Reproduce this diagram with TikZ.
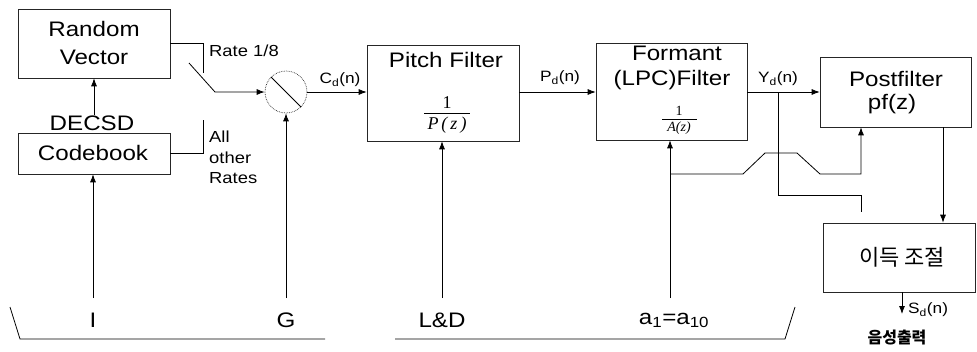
\documentclass[tikz,border=0pt]{standalone}
\usepackage{fontspec}
\setmainfont[FakeStretch=1.15]{Liberation Sans}
\newfontfamily\kr{Noto Sans CJK KR}
\newfontfamily\fracfont{Liberation Serif}
\usetikzlibrary{arrows.meta}
\begin{document}
\begin{tikzpicture}[x=1pt,y=-1pt,
  box/.style={draw=black!85, line width=0.6pt, rectangle, inner sep=0pt},
  big/.style={font=\fontsize{21}{28}\selectfont, inner sep=0pt, align=center},
  mid/.style={font=\fontsize{16}{20.5}\selectfont, inner sep=0pt, align=left},
  sml/.style={font=\fontsize{15}{18}\selectfont, inner sep=0pt},
  fr/.style={font=\fracfont\fontsize{18}{20}\selectfont, inner sep=0pt},
  frs/.style={font=\fracfont\fontsize{14}{16}\selectfont, inner sep=0pt},
  wire/.style={line width=0.8pt},
  arr/.style={wire, -{Latex[length=8pt,width=6pt]}},
]
\useasboundingbox (0,0) rectangle (977,351);

% boxes
\node[box, minimum width=152, minimum height=69] (rv) at (94,43.5) {};
\node[box, minimum width=152, minimum height=41] (cb) at (94,153.5) {};
\node[box, minimum width=152, minimum height=96] (pf) at (443,93) {};
\node[box, minimum width=151, minimum height=97] (ff) at (671.5,91.5) {};
\node[box, minimum width=151, minimum height=70] (post) at (895.5,92) {};
\node[box, minimum width=152, minimum height=69] (gain) at (899,257.5) {};
\node[circle, draw=black!85, densely dotted, line width=0.7pt, minimum size=42, inner sep=0pt] (sum) at (286,92) {};
\draw[wire] (sum.north west) -- (sum.south east);

% box texts
\node[big] (rvt) at (94,43) {Random\\Vector};
\node[big] (cbt) at (93,153) {Codebook};
\node[big] (decsd) at (92,123) {DECSD};
\node[big] (pft) at (446,60) {Pitch Filter};
\node[fr] (pfnum) at (447,103) {1};
\node[fr] (pfden) at (447,125) {\itshape P\,(\,z\,)};
\draw[line width=0.8pt] (424,113) -- (470,113);
\node[big] (fft1) at (677,53) {Formant};
\node[big] (fft2) at (672,80) {(LPC)Filter};
\node[frs] (ffnum) at (679,111) {1};
\node[frs] (ffden) at (679,128) {\itshape A(z)};
\draw[line width=0.8pt] (662,119) -- (697,119);
\node[big] (postt) at (896,79) {Postfilter};
\node[big] (postt2) at (892,104) {pf(z)};
\node[font=\kr\fontsize{22}{26}\selectfont, inner sep=0pt] (gaint) at (902,257) {이득 조절};

% switch labels
\node[mid, anchor=west] (rate) at (209,51) {Rate 1/8};
\node[mid, anchor=north west] (other) at (209,131) {All\\other\\Rates};

% signal labels
\node[sml] (cdl) at (340,80) {C\textsubscript{d}(n)};
\node[sml] (pdl) at (560,78) {P\textsubscript{d}(n)};
\node[sml] (ydl) at (778,79) {Y\textsubscript{d}(n)};
\node[sml, anchor=west] (sdl) at (908,310) {S\textsubscript{d}(n)};
\node[font=\kr\bfseries\fontsize{16}{18}\selectfont, inner sep=0pt] (out) at (897,338) {음성출력};

% inputs
\node[big] (in1) at (93,320) {I};
\node[big] (in2) at (286,320) {G};
\node[big] (in3) at (442,320) {L\&D};
\node[big] (in4) at (674,320) {a\textsubscript{1}=a\textsubscript{10}};
\coordinate (i1) at (93,298);
\coordinate (i2) at (286,298);
\coordinate (i3) at (442,298);
\coordinate (i4) at (670,298);

\draw[arr] (i1) -- (cb.south -| i1);
\draw[arr] (i2) -- (sum.south);
\draw[arr] (i3) -- (pf.south -| i3);
\draw[arr] (i4) -- (ff.south -| i4);
\draw[arr] (decsd.north -| rv.south) -- (rv.south);

% switch
\coordinate (sw1) at (203,73);
\coordinate (sw2) at (203,120);
\coordinate (blade) at (189,63);
\coordinate (bladeend) at (215,92);
\draw[wire] (rv.east) -- (rv.east -| sw1) -- (sw1);
\draw[wire] (cb.east) -- (cb.east -| sw2) -- (sw2);
\draw[arr] (blade) -- (bladeend) -- (sum.west);

% main chain
\draw[arr] (sum.east) -- (sum.east -| pf.west);
\draw[arr] (pf.east |- 0,92) -- (ff.west |- 0,92);
\draw[arr] (ff.east |- post.west) -- (post.west);

% Y branch
\coordinate (yb) at (778,92);
\coordinate (ye) at (861,212);
\draw[wire] (yb) -- (778,195) -- (861,195) -- (ye);

% a1 branch with hop
\draw[arr] (670,174) -- (743,174) -- (765,153) -- (797,153) -- (820,174) -- (861,174) -- (post.south -| 861,0);

% postfilter -> gain
\draw[arr] (post.south -| 943,0) -- (gain.north -| 943,0);
\coordinate (so) at (902,314);
\draw[arr] (gain.south -| so) -- (so);

% bottom bracket
\draw[wire] (10,307) -- (20,339) -- (325,339);
\draw[wire] (395,339) -- (785,339) -- (795,307);
\end{tikzpicture}
\end{document}
